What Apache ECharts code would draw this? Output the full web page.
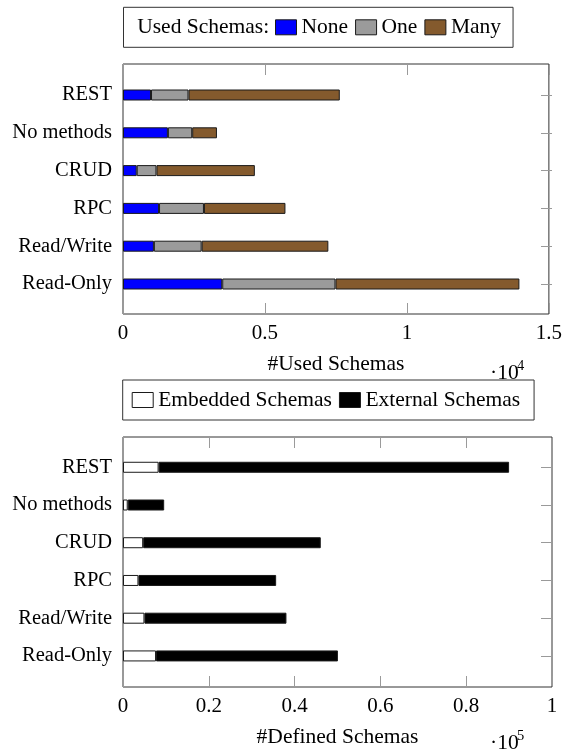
<!DOCTYPE html>
<html>
<head>
<meta charset="utf-8">
<script src="https://cdn.jsdelivr.net/npm/echarts@6/dist/echarts.min.js"></script>
<style>
html,body{margin:0;padding:0;background:#fff;}
#main{width:565px;height:751px;}
</style>
</head>
<body>
<div id="main"></div>
<script>
// ---- data ----
const categories = ['REST', 'No methods', 'CRUD', 'RPC', 'Read/Write', 'Read-Only'];
const usedNone = [980, 1570, 480, 1260, 1080, 3470];
const usedOne = [1310, 850, 690, 1570, 1670, 3960];
const usedMany = [5290, 865, 3440, 2850, 4430, 6430];
const definedEmbedded = [8300, 1100, 4700, 3600, 5000, 7700];
const definedExternal = [81700, 8500, 41400, 32100, 33100, 42400];
const usedLegend = ['None', 'One', 'Many'];
const definedLegend = ['Embedded Schemas', 'External Schemas'];
const usedMax = 15000, usedStep = 5000, usedScale = 10000;
const definedMax = 100000, definedStep = 20000, definedScale = 100000;

const FONT = '"Liberation Serif", "Times New Roman", serif';
const FS_CAT = 20.5;
const FS_TICK = 21;
const FS_TXT = 21.5;
const TICK = '#9a9a9a';
const FRAME = '#333';

const chart = echarts.init(document.getElementById('main'), null, {renderer: 'canvas'});

function frameX(gridIndex, max, step, scale, name) {
  return [
    {
      gridIndex, type: 'value', min: 0, max, interval: step, position: 'bottom',
      axisLine: {show: false},
      axisTick: {show: true, inside: true, length: 11, lineStyle: {color: TICK, width: 1}},
      splitLine: {show: false},
      axisLabel: {margin: 9, fontFamily: FONT, fontSize: FS_TICK, color: '#000',
        formatter: v => String(Math.round(v / scale * 100) / 100)},
      name, nameLocation: 'middle', nameGap: 39,
      nameTextStyle: {fontFamily: FONT, fontSize: FS_TXT, color: '#000'}
    },
    {
      gridIndex, type: 'value', min: 0, max, interval: step, position: 'top',
      axisLine: {show: false},
      axisTick: {show: true, inside: true, length: 11, lineStyle: {color: TICK, width: 1}},
      splitLine: {show: false},
      axisLabel: {show: false}
    }
  ];
}

const xAxis = [
  ...frameX(0, usedMax, usedStep, usedScale, '#Used Schemas'),
  {gridIndex: 1, type: 'value', min: 0, max: usedMax, show: false},
  ...frameX(2, definedMax, definedStep, definedScale, '#Defined Schemas'),
  {gridIndex: 3, type: 'value', min: 0, max: definedMax, show: false}
];

function catAxes(gridIndex) {
  return [
    {
      gridIndex, type: 'category', data: categories, inverse: true, position: 'left',
      axisLine: {show: false}, axisTick: {show: false},
      axisLabel: {margin: 11, fontFamily: FONT, fontSize: FS_CAT, color: '#000'}
    },
    {
      gridIndex, type: 'category', data: categories, inverse: true, position: 'right',
      axisLine: {show: false},
      axisTick: {show: true, inside: true, alignWithLabel: true, length: 11, lineStyle: {color: TICK, width: 1}},
      axisLabel: {show: false}
    }
  ];
}

const yAxis = [
  {gridIndex: 0, type: 'value', show: false},
  ...catAxes(1),
  {gridIndex: 2, type: 'value', show: false},
  ...catAxes(3)
];

const barBase = {type: 'bar', barWidth: 11};
const border = {borderColor: '#1a1a1a', borderWidth: 1};

const series = [
  {...barBase, name: usedLegend[0], xAxisIndex: 2, yAxisIndex: 1, stack: 'used', data: usedNone,
    itemStyle: {color: '#0000ff', ...border}},
  {...barBase, name: usedLegend[1], xAxisIndex: 2, yAxisIndex: 1, stack: 'used', data: usedOne,
    itemStyle: {color: '#9b9b9b', ...border}},
  {...barBase, name: usedLegend[2], xAxisIndex: 2, yAxisIndex: 1, stack: 'used', data: usedMany,
    itemStyle: {color: '#845a2d', ...border}},
  {...barBase, name: definedLegend[0], xAxisIndex: 5, yAxisIndex: 4, stack: 'defined', data: definedEmbedded,
    itemStyle: {color: '#ffffff', ...border}},
  {...barBase, name: definedLegend[1], xAxisIndex: 5, yAxisIndex: 4, stack: 'defined', data: definedExternal,
    itemStyle: {color: '#000000', ...border}}
];

const legendCommon = {
  orient: 'horizontal', icon: 'rect', itemWidth: 21, itemHeight: 15, itemGap: 7,
  borderColor: FRAME, borderWidth: 1, selectedMode: false,
  itemStyle: {borderColor: '#1a1a1a', borderWidth: 1},
  textStyle: {fontFamily: FONT, fontSize: FS_TXT, color: '#000', lineHeight: 22}
};

const option = {
  animation: false,
  backgroundColor: '#fff',
  grid: [
    {left: 123, top: 64, width: 429, height: 250, show: true, borderColor: FRAME, borderWidth: 1},
    {left: 123, top: 76.1, width: 429, height: 226.8},
    {left: 123, top: 437, width: 429, height: 250, show: true, borderColor: FRAME, borderWidth: 1},
    {left: 123, top: 448.4, width: 429, height: 226.4}
  ],
  xAxis, yAxis, series,
  legend: [
    {...legendCommon, data: usedLegend, left: 123.5, top: 7.3, padding: [9, 12, 9, 151.5]},
    {...legendCommon, data: definedLegend, left: 122.7, top: 380, padding: [9, 14, 9, 9]}
  ],
  graphic: [
    {type: 'text', x: 137.2, y: 27.3, silent: true,
      style: {text: 'Used Schemas:', font: FS_TXT + 'px ' + FONT, fill: '#000', verticalAlign: 'middle'}},
    {type: 'text', x: 490, y: 373, silent: true,
      style: {text: '·10', font: FS_TXT + 'px ' + FONT, fill: '#000', verticalAlign: 'middle'}},
    {type: 'text', x: 517, y: 366.5, silent: true,
      style: {text: '4', font: '14.5px ' + FONT, fill: '#000', verticalAlign: 'middle'}},
    {type: 'text', x: 490, y: 743, silent: true,
      style: {text: '·10', font: FS_TXT + 'px ' + FONT, fill: '#000', verticalAlign: 'middle'}},
    {type: 'text', x: 517, y: 736.5, silent: true,
      style: {text: '5', font: '14.5px ' + FONT, fill: '#000', verticalAlign: 'middle'}}
  ]
};

chart.setOption(option);
</script>
</body>
</html>
